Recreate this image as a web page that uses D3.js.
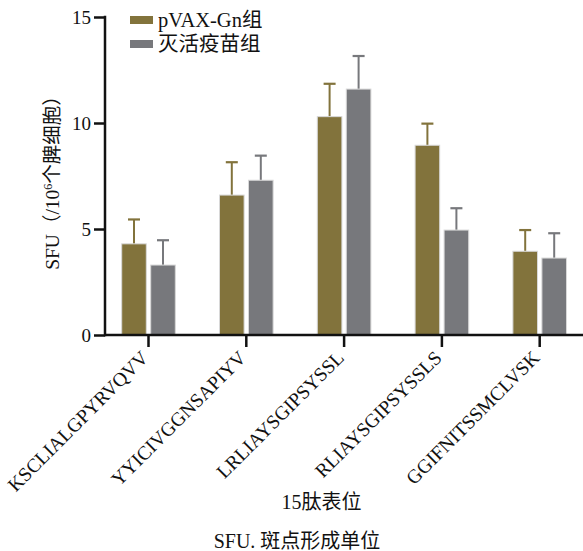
<!DOCTYPE html>
<html>
<head>
<meta charset="utf-8">
<script src="https://cdn.jsdelivr.net/npm/d3@7"></script>
<style>
  html, body { margin: 0; padding: 0; background: #fff; }
  svg { display: block; }
  text { font-family: "Liberation Serif", "Noto Sans CJK SC", serif; fill: #111; }
</style>
</head>
<body>
<svg id="chart" width="583" height="551"></svg>
<script>
const categories = ["KSCLIALGPYRVQVV", "YYICIVGGNSAPIYV", "LRLIAYSGIPSYSSL", "RLIAYSGIPSYSSLS", "GGIFNITSSMCLVSK"];
const seriesNames = ["pVAX-Gn组", "灭活疫苗组"];
const pvaxValues = [4.3, 6.6, 10.3, 8.95, 3.95];
const pvaxErrors = [1.15, 1.55, 1.55, 1.02, 1.0];
const inactValues = [3.3, 7.3, 11.6, 4.95, 3.63];
const inactErrors = [1.17, 1.16, 1.56, 1.03, 1.17];
const yTicks = [0, 5, 10, 15];
const colors = ["#82733c", "#77787c"];

const svg = d3.select("#chart");
const axisX = 105, baseY = 335;

const x = d3.scaleBand().domain(categories).range([99.6, 588.6]).padding(0);
const xs = d3.scaleBand().domain(seriesNames).range([-26.8, 26.8]).paddingInner(0.152).paddingOuter(0);
const y = d3.scaleLinear().domain([0, 15]).range([baseY, 17]);

const values = [pvaxValues, inactValues];
const errors = [pvaxErrors, inactErrors];

const rows = [];
categories.forEach((c, i) => {
  seriesNames.forEach((s, j) => {
    rows.push({ cat: c, series: s, j, v: values[j][i], e: errors[j][i] });
  });
});

const cx = c => x(c) + x.bandwidth() / 2;

// error bars (drawn first, bar covers base)
const eg = svg.append("g");
rows.forEach(d => {
  const mx = cx(d.cat) + xs(d.series) + xs.bandwidth() / 2;
  eg.append("line").attr("x1", mx).attr("x2", mx)
    .attr("y1", y(d.v)).attr("y2", y(d.v + d.e))
    .attr("stroke", colors[d.j]).attr("stroke-width", 2);
  eg.append("line").attr("x1", mx - 6).attr("x2", mx + 6)
    .attr("y1", y(d.v + d.e)).attr("y2", y(d.v + d.e))
    .attr("stroke", colors[d.j]).attr("stroke-width", 2.2);
});

// bars
svg.append("g").selectAll("rect").data(rows).join("rect")
  .attr("x", d => cx(d.cat) + xs(d.series))
  .attr("width", xs.bandwidth())
  .attr("y", d => y(d.v))
  .attr("height", d => baseY - y(d.v))
  .attr("fill", d => colors[d.j])
  .attr("stroke", "#d8d8d8").attr("stroke-width", 1);

// y axis
const yAxis = d3.axisLeft(y).tickValues(yTicks).tickSize(11).tickPadding(3).tickFormat(d3.format("d"));
const gy = svg.append("g").attr("transform", `translate(${axisX},0)`).call(yAxis);
gy.select(".domain").remove();
gy.selectAll(".tick line").attr("stroke", "#111").attr("stroke-width", 2.5);
gy.selectAll(".tick text").attr("font-size", 19).attr("fill", "#111");
svg.append("line").attr("x1", axisX).attr("x2", axisX).attr("y1", y(15) - 1.2).attr("y2", baseY + 1.2)
  .attr("stroke", "#111").attr("stroke-width", 2.5);

// x axis
const xAxis = d3.axisBottom(x).tickSize(12).tickFormat("");
const gx = svg.append("g").attr("transform", `translate(0,${baseY})`).call(xAxis);
gx.select(".domain").remove();
gx.selectAll(".tick line").attr("stroke", "#111").attr("stroke-width", 2.5);
svg.append("line").attr("x1", axisX).attr("x2", 583).attr("y1", baseY).attr("y2", baseY)
  .attr("stroke", "#111").attr("stroke-width", 2.5);

// x tick labels rotated
svg.append("g").selectAll("text").data(categories).join("text")
  .attr("transform", d => `translate(${cx(d) + 1},${baseY + 24}) rotate(-45)`)
  .attr("text-anchor", "end")
  .attr("font-size", 19.5)
  .text(d => d);

// axis titles
svg.append("text").attr("x", 321.5).attr("y", 509).attr("text-anchor", "middle")
  .attr("font-size", 20).text("15肽表位");
svg.append("text").attr("x", 297).attr("y", 548).attr("text-anchor", "middle")
  .attr("font-size", 20).text("SFU. 斑点形成单位");

const yt = svg.append("text").attr("transform", `translate(59,178) rotate(-90)`)
  .attr("text-anchor", "middle").attr("font-size", 19.5);
yt.append("tspan").text("SFU（/10");
yt.append("tspan").attr("dy", -7).attr("font-size", 12).text("6");
yt.append("tspan").attr("dy", 7).text("个脾细胞）");

// legend
const lg = svg.append("g");
seriesNames.forEach((s, j) => {
  const ly = 20 + j * 24;
  lg.append("rect").attr("x", 130).attr("y", ly - 4).attr("width", 23).attr("height", 8).attr("fill", colors[j]);
  lg.append("text").attr("x", 158).attr("y", ly + 7).attr("font-size", 20.5).text(s);
});
</script>
</body>
</html>
